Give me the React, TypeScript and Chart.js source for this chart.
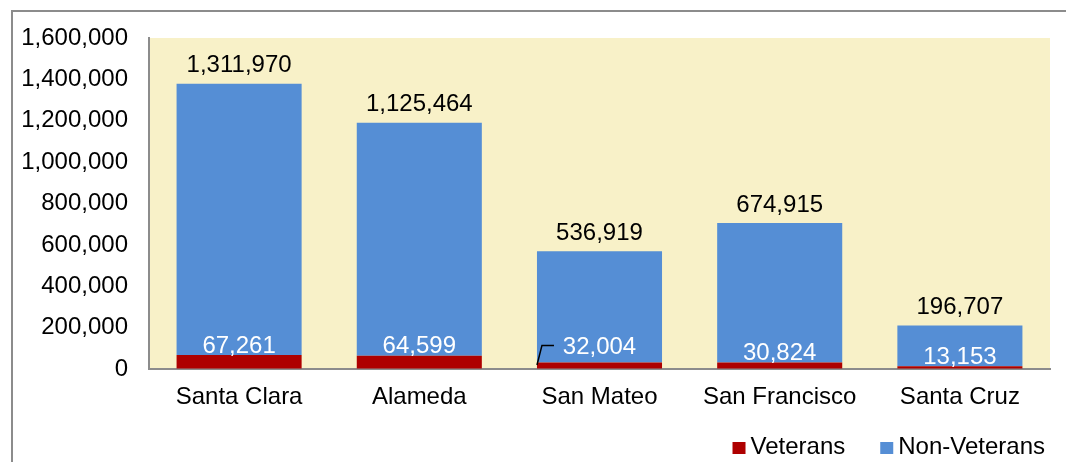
import React, { useEffect, useRef } from "react";
import { Chart, registerables } from "chart.js";

Chart.register(...registerables);

const categories = ["Santa Clara", "Alameda", "San Mateo", "San Francisco", "Santa Cruz"];
const veterans = [67261, 64599, 32004, 30824, 13153];
const nonVeterans = [1311970, 1125464, 536919, 674915, 196707];
const seriesNames = ["Veterans", "Non-Veterans"];
const seriesColors = ["#AE0000", "#558ED5"];
const yMax = 1600000;
const yStep = 200000;

const FONT = "'Liberation Sans', Arial, sans-serif";
const FONT_SIZE = 24;
const fmt = (v: number) => v.toLocaleString("en-US");

const decorPlugin = {
  id: "decor",
  beforeDraw(chart: any) {
    const { ctx, chartArea } = chart;
    ctx.save();
    ctx.fillStyle = "#FFFFFF";
    ctx.fillRect(0, 0, chart.width, chart.height);
    // outer frame
    ctx.strokeStyle = "#8C8C8C";
    ctx.lineWidth = 2;
    ctx.strokeRect(12, 11, chart.width + 20, chart.height + 20);
    // plot area background
    ctx.fillStyle = "#F8F1C8";
    ctx.fillRect(chartArea.left, chartArea.top, chartArea.right - chartArea.left, chartArea.bottom - chartArea.top);
    ctx.restore();
  },
  afterDatasetsDraw(chart: any) {
    const { ctx } = chart;
    const yScale = chart.scales.y;
    const vetMeta = chart.getDatasetMeta(0);
    const nonMeta = chart.getDatasetMeta(1);
    ctx.save();
    ctx.font = `${FONT_SIZE}px ${FONT}`;
    ctx.textAlign = "center";
    ctx.textBaseline = "middle";
    const leaderIndex = 2;
    vetMeta.data.forEach((bar: any, i: number) => {
      const x = bar.x;
      const vTop = yScale.getPixelForValue(veterans[i]);
      let y = vTop - 10;
      if (i === leaderIndex) {
        y = vTop - 16;
        ctx.strokeStyle = "#000000";
        ctx.lineWidth = 1.5;
        const left = bar.x - bar.width / 2;
        ctx.beginPath();
        ctx.moveTo(left, yScale.getPixelForValue(0) - 4);
        ctx.lineTo(left + 5, y - 1);
        ctx.lineTo(left + 17, y - 1);
        ctx.stroke();
      }
      ctx.fillStyle = "#FFFFFF";
      ctx.fillText(fmt(veterans[i]), x, y + 1);
    });
    nonMeta.data.forEach((bar: any, i: number) => {
      ctx.fillStyle = "#000000";
      ctx.fillText(fmt(nonVeterans[i]), bar.x, bar.y - 18);
    });

    // legend (bottom right)
    const box = 13;
    const gapText = 5;
    const gapItems = 35;
    const legendY = 447;
    const rightEdge = 1045;
    const widths = seriesNames.map((n) => ctx.measureText(n).width);
    let total = 0;
    widths.forEach((w, i) => {
      total += box + gapText + w + (i < widths.length - 1 ? gapItems : 0);
    });
    let x = rightEdge - total;
    ctx.textAlign = "left";
    seriesNames.forEach((n, i) => {
      ctx.fillStyle = seriesColors[i];
      ctx.fillRect(x, legendY - 5, box, 12);
      x += box + gapText;
      ctx.fillStyle = "#000000";
      ctx.fillText(n, x, legendY);
      x += widths[i] + gapItems;
    });
    ctx.restore();
  },
};

export default function App() {
  const canvasRef = useRef<HTMLCanvasElement | null>(null);

  useEffect(() => {
    if (!canvasRef.current) return;
    const chart = new Chart(canvasRef.current, {
      type: "bar",
      data: {
        labels: categories,
        datasets: [
          {
            label: seriesNames[0],
            data: veterans,
            backgroundColor: seriesColors[0],
            barPercentage: 0.694,
            categoryPercentage: 1,
          },
          {
            label: seriesNames[1],
            data: nonVeterans,
            backgroundColor: seriesColors[1],
            barPercentage: 0.694,
            categoryPercentage: 1,
          },
        ],
      },
      options: {
        responsive: false,
        animation: false,
        devicePixelRatio: 1,
        layout: { padding: { top: 38, right: 16, left: 0, bottom: 0 } },
        plugins: {
          legend: { display: false },
          tooltip: { enabled: false },
        },
        scales: {
          x: {
            stacked: true,
            grid: { display: true, color: "rgba(0,0,0,0)", drawTicks: false },
            border: { display: true, color: "#8C8C8C", width: 2 },
            ticks: {
              color: "#000000",
              font: { family: FONT, size: FONT_SIZE },
              padding: 14,
              maxRotation: 0,
            },
            afterFit: (scale: any) => {
              scale.height = 93;
            },
          },
          y: {
            stacked: true,
            min: 0,
            max: yMax,
            grid: { display: true, color: "rgba(0,0,0,0)", drawTicks: false },
            border: { display: true, color: "#8C8C8C", width: 2 },
            ticks: {
              stepSize: yStep,
              color: "#000000",
              font: { family: FONT, size: FONT_SIZE },
              padding: 21,
              callback: (v: any) => fmt(Number(v)),
            },
            afterFit: (scale: any) => {
              scale.width = 149;
            },
          },
        },
      },
      plugins: [decorPlugin],
    });
    return () => chart.destroy();
  }, []);

  return (
    <div style={{ position: "absolute", left: 0, top: 0, width: 1066, height: 462, background: "#fff" }}>
      <canvas ref={canvasRef} width={1066} height={462} style={{ display: "block" }} />
    </div>
  );
}
